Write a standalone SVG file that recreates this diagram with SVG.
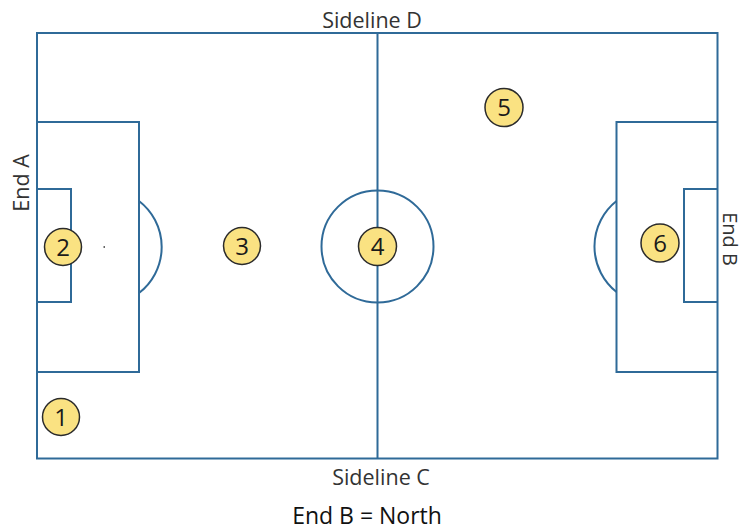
<svg xmlns="http://www.w3.org/2000/svg" width="744" height="532" viewBox="0 0 744 532">
<style>
.ln{fill:none;stroke:#2f6a98;stroke-width:2}
.pos circle{fill:#fae282;stroke:#2b2b2b;stroke-width:1.5}
.pos text{font-family:"Open Sans","Liberation Sans",sans-serif;font-size:24px;fill:#1a1a1a;text-anchor:middle}
.lbl{font-family:"Open Sans","Liberation Sans",sans-serif;font-size:21.5px;fill:#333;text-anchor:middle}
</style>
<rect width="744" height="532" fill="#fff"/>
<g id="field">
<rect class="ln" x="37" y="33" width="680.5" height="425.5"/>
<line class="ln" x1="377.5" y1="33" x2="377.5" y2="458.5"/>
<circle class="ln" cx="377.5" cy="246.5" r="56"/>
<path class="ln" d="M37 122H139V372H37"/>
<path class="ln" d="M37 189H71V302H37"/>
<path class="ln" d="M139 201A58 58 0 0 1 139 293"/>
<rect x="103.5" y="246" width="1.5" height="2" fill="#666"/>
<path class="ln" d="M717.5 122H616.5V372H717.5"/>
<path class="ln" d="M717.5 189H684V302H717.5"/>
<path class="ln" d="M616.5 201A58 58 0 0 0 616.5 292"/>
</g>
<g id="labels">
<text class="lbl" x="372" y="28">Sideline D</text>
<text class="lbl" x="381" y="485">Sideline C</text>
<text class="lbl" x="367" y="524" style="font-size:23px;fill:#111">End B = North</text>
<text class="lbl" transform="translate(28.5 183) rotate(-90)">End A</text>
<text class="lbl" transform="translate(723 239) rotate(90)" style="font-size:20px">End B</text>
</g>
<g id="p1" class="pos"><circle cx="61" cy="417" r="18.5"/><text x="61" y="425.5">1</text></g>
<g id="p2" class="pos"><circle cx="63" cy="247" r="18.5"/><text x="63" y="255.5">2</text></g>
<g id="p3" class="pos"><circle cx="242" cy="246" r="18.5"/><text x="242" y="254.5">3</text></g>
<g id="p4" class="pos"><circle cx="377.5" cy="246.5" r="19"/><text x="377.5" y="255">4</text></g>
<g id="p5" class="pos"><circle cx="504" cy="107.5" r="19"/><text x="504" y="116">5</text></g>
<g id="p6" class="pos"><circle cx="660" cy="243" r="19"/><text x="660" y="251.5">6</text></g>
<g id="connectors"/>
</svg>
